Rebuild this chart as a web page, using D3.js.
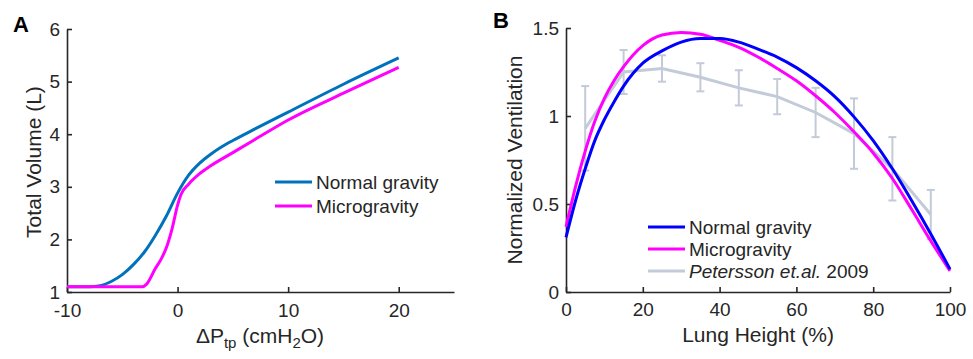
<!DOCTYPE html>
<html>
<head>
<meta charset="utf-8">
<script src="https://cdn.jsdelivr.net/npm/d3@7"></script>
<style>
  body { margin: 0; background: #fff; }
  svg { font-family: "Liberation Sans", Arial, Helvetica, sans-serif; }
</style>
</head>
<body>
<div id="chart"></div>
<script>
// Panel A: pressure-volume curves
const pressure = [-10, -8, -7, -6, -5, -4, -3, -2, -1, 0, 1, 2, 3, 4, 5, 7, 10, 15, 20];
const volumeNormal = [1.1, 1.1, 1.12, 1.2, 1.33, 1.52, 1.76, 2.08, 2.45, 2.88, 3.22, 3.45, 3.62, 3.76, 3.88, 4.1, 4.42, 4.95, 5.45];
const pressureMicro = [-10, -5, -3.2, -2.8, -2, -1.5, -1, -0.5, 0, 0.3, 1, 2, 3, 5, 7, 10, 15, 20];
const volumeMicro = [1.1, 1.1, 1.1, 1.15, 1.45, 1.62, 1.85, 2.2, 2.65, 2.85, 3.05, 3.25, 3.4, 3.65, 3.9, 4.27, 4.78, 5.27];
const ticksA_x = [-10, 0, 10, 20];
const ticksA_y = [1, 2, 3, 4, 5, 6];

// Panel B: ventilation vs lung height
const height = [0, 2.5, 5, 7.5, 10, 12.5, 15, 20, 25, 30, 35, 40, 45, 50, 55, 60, 65, 70, 75, 80, 85, 90, 95, 100];
const ventNormal = [0.31, 0.52, 0.7, 0.86, 0.98, 1.08, 1.17, 1.3, 1.37, 1.42, 1.44, 1.44, 1.42, 1.38, 1.335, 1.275, 1.2, 1.11, 0.995, 0.86, 0.7, 0.52, 0.33, 0.13];
const ventMicro = [0.37, 0.6, 0.8, 0.97, 1.1, 1.2, 1.28, 1.4, 1.46, 1.475, 1.465, 1.43, 1.39, 1.335, 1.27, 1.2, 1.115, 1.02, 0.91, 0.79, 0.645, 0.47, 0.29, 0.12];
const peterssonX = [5, 15, 25, 35, 45, 55, 65, 75, 85, 95];
const peterssonMean = [0.93, 1.25, 1.27, 1.22, 1.16, 1.11, 1.02, 0.9, 0.7, 0.44];
const peterssonErr = [0.24, 0.125, 0.075, 0.08, 0.1, 0.1, 0.14, 0.2, 0.18, 0.14];
const ticksB_x = [0, 20, 40, 60, 80, 100];
const ticksB_y = [0, 0.5, 1, 1.5];

const W = 973, H = 359;
const ink = '#262626';
const fmt = d => String(d);
const svg = d3.select('#chart').append('svg').attr('width', W).attr('height', H);

function styleAxis(g) {
  g.select('.domain').attr('stroke', ink).attr('stroke-width', 1.6);
  g.selectAll('.tick line').attr('stroke', ink).attr('stroke-width', 1.6);
  g.selectAll('.tick text').attr('fill', ink).style('font-size', '19px');
  g.attr('font-family', null);
}

// ---------- Panel A ----------
const xA = d3.scaleLinear().domain([-10, 25]).range([67, 454]);
const yA = d3.scaleLinear().domain([1, 6]).range([292, 29]);

svg.append('g')
  .attr('transform', 'translate(0,292)')
  .call(d3.axisBottom(xA).tickValues(ticksA_x).tickFormat(fmt).tickSizeInner(-5).tickSizeOuter(0).tickPadding(12))
  .call(styleAxis);
svg.append('g')
  .attr('transform', 'translate(67,0)')
  .call(d3.axisLeft(yA).tickValues(ticksA_y).tickFormat(fmt).tickSizeInner(-5).tickSizeOuter(0).tickPadding(7))
  .call(styleAxis);

const lineA = d3.line().curve(d3.curveMonotoneX);
svg.append('path')
  .attr('d', lineA(pressure.map((p, i) => [xA(p), yA(volumeNormal[i])])))
  .attr('fill', 'none').attr('stroke', '#0072BD').attr('stroke-width', 3);
svg.append('path')
  .attr('d', lineA(pressureMicro.map((p, i) => [xA(p), yA(volumeMicro[i])])))
  .attr('fill', 'none').attr('stroke', '#FF00FF').attr('stroke-width', 3);

// legend A
const legA = [['Normal gravity', '#0072BD'], ['Microgravity', '#FF00FF']];
legA.forEach(([name, c], i) => {
  const y = 182 + i * 24;
  svg.append('line').attr('x1', 275).attr('x2', 312).attr('y1', y).attr('y2', y)
    .attr('stroke', c).attr('stroke-width', 3);
  svg.append('text').attr('x', 316).attr('y', y + 7).attr('fill', ink)
    .style('font-size', '19px').text(name);
});

// axis titles A
svg.append('text')
  .attr('transform', 'translate(41,162) rotate(-90)')
  .attr('text-anchor', 'middle').attr('fill', ink).style('font-size', '21px')
  .text('Total Volume (L)');
const xtA = svg.append('text').attr('x', 260).attr('y', 343)
  .attr('text-anchor', 'middle').attr('fill', ink).style('font-size', '21px');
xtA.append('tspan').text('\u0394P');
xtA.append('tspan').attr('baseline-shift', '-30%').style('font-size', '15px').text('tp');
xtA.append('tspan').text(' (cmH');
xtA.append('tspan').attr('baseline-shift', '-30%').style('font-size', '15px').text('2');
xtA.append('tspan').text('O)');

svg.append('text').attr('x', 13).attr('y', 32).style('font-size', '22px')
  .style('font-weight', 'bold').attr('fill', '#000').text('A');

// ---------- Panel B ----------
const xB = d3.scaleLinear().domain([0, 100]).range([566, 950]);
const yB = d3.scaleLinear().domain([0, 1.5]).range([292, 28]);

svg.append('g')
  .attr('transform', 'translate(0,292)')
  .call(d3.axisBottom(xB).tickValues(ticksB_x).tickFormat(fmt).tickSizeInner(-5).tickSizeOuter(0).tickPadding(11))
  .call(styleAxis);
svg.append('g')
  .attr('transform', 'translate(566,0)')
  .call(d3.axisLeft(yB).tickValues(ticksB_y).tickFormat(fmt).tickSizeInner(-5).tickSizeOuter(0).tickPadding(7))
  .call(styleAxis);

const grey = '#c3cad8';
// Petersson data with error bars
const pet = svg.append('g');
pet.append('path')
  .attr('d', d3.line()(peterssonX.map((x, i) => [xB(x), yB(peterssonMean[i])])))
  .attr('fill', 'none').attr('stroke', grey).attr('stroke-width', 3);
peterssonX.forEach((x, i) => {
  const top = yB(peterssonMean[i] + peterssonErr[i]);
  const bot = yB(peterssonMean[i] - peterssonErr[i]);
  const cx = xB(x);
  pet.append('line').attr('x1', cx).attr('x2', cx).attr('y1', top).attr('y2', bot)
    .attr('stroke', grey).attr('stroke-width', 2);
  [top, bot].forEach(yy => {
    pet.append('line').attr('x1', cx - 4).attr('x2', cx + 4).attr('y1', yy).attr('y2', yy)
      .attr('stroke', grey).attr('stroke-width', 2);
  });
});

const lineB = d3.line().curve(d3.curveMonotoneX);
svg.append('path')
  .attr('d', lineB(height.map((h, i) => [xB(h), yB(ventMicro[i])])))
  .attr('fill', 'none').attr('stroke', '#FF00FF').attr('stroke-width', 3);
svg.append('path')
  .attr('d', lineB(height.map((h, i) => [xB(h), yB(ventNormal[i])])))
  .attr('fill', 'none').attr('stroke', '#0000FF').attr('stroke-width', 3);

// legend B
const legB = [['Normal gravity', '#0000FF'], ['Microgravity', '#FF00FF'], ['Petersson', grey]];
legB.forEach(([name, c], i) => {
  const y = 227 + i * 22;
  svg.append('line').attr('x1', 648).attr('x2', 685).attr('y1', y).attr('y2', y)
    .attr('stroke', c).attr('stroke-width', 3);
  const t = svg.append('text').attr('x', 689).attr('y', y + 7).attr('fill', ink)
    .style('font-size', '19px');
  if (name === 'Petersson') {
    t.append('tspan').style('font-style', 'italic').text('Petersson et.al.');
    t.append('tspan').text(' 2009');
  } else {
    t.text(name);
  }
});

svg.append('text')
  .attr('transform', 'translate(522,160) rotate(-90)')
  .attr('text-anchor', 'middle').attr('fill', ink).style('font-size', '21px')
  .text('Normalized Ventilation');
svg.append('text').attr('x', 758).attr('y', 342)
  .attr('text-anchor', 'middle').attr('fill', ink).style('font-size', '21px')
  .text('Lung Height (%)');

svg.append('text').attr('x', 493).attr('y', 28).style('font-size', '22px')
  .style('font-weight', 'bold').attr('fill', '#000').text('B');
</script>
</body>
</html>
